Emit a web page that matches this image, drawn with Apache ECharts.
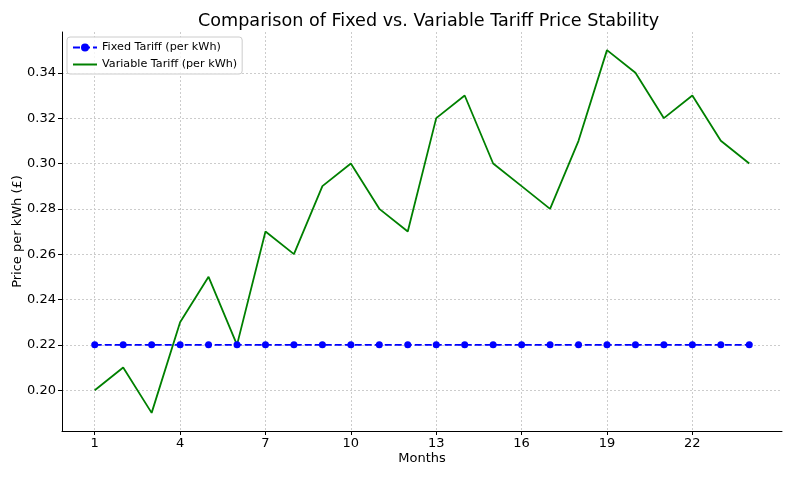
<!DOCTYPE html>
<html>
<head>
<meta charset="utf-8">
<script src="https://cdn.jsdelivr.net/npm/echarts@6/dist/echarts.min.js"></script>
<style>html,body{margin:0;padding:0;background:#fff;}#chart{width:795px;height:477px;}</style>
</head>
<body>
<div id="chart"></div>
<script>
const months = [1,2,3,4,5,6,7,8,9,10,11,12,13,14,15,16,17,18,19,20,21,22,23,24];
const fixedTariff = [0.22,0.22,0.22,0.22,0.22,0.22,0.22,0.22,0.22,0.22,0.22,0.22,0.22,0.22,0.22,0.22,0.22,0.22,0.22,0.22,0.22,0.22,0.22,0.22];
const variableTariff = [0.20,0.21,0.19,0.23,0.25,0.22,0.27,0.26,0.29,0.30,0.28,0.27,0.32,0.33,0.30,0.29,0.28,0.31,0.35,0.34,0.32,0.33,0.31,0.30];
const xTicks = [1,4,7,10,13,16,19,22];
const yTicks = [0.20,0.22,0.24,0.26,0.28,0.30,0.32,0.34];
const seriesNames = ['Fixed Tariff (per kWh)','Variable Tariff (per kWh)'];

const font = 'DejaVu Sans';
const chart = echarts.init(document.getElementById('chart'), null, {renderer:'canvas'});
chart.setOption({
  animation: false,
  backgroundColor: '#ffffff',
  title: {
    text: 'Comparison of Fixed vs. Variable Tariff Price Stability',
    left: 193, top: 7,
    textStyle: {fontFamily: font, fontSize: 17.6, fontWeight: 'normal', color: '#000'}
  },
  legend: {
    orient: 'vertical', left: 67, top: 37,
    backgroundColor: 'rgba(255,255,255,0.8)', borderColor: '#cccccc', borderWidth: 1, borderRadius: 3,
    padding: [5, 5, 4, 5], itemGap: 6, itemWidth: 24, itemHeight: 10,
    textStyle: {fontFamily: font, fontSize: 11.2, color: '#000'},
    data: [seriesNames[0], {name: seriesNames[1], itemStyle: {opacity: 0}}]
  },
  grid: {left: 62, right: 13, top: 32, bottom: 46, containLabel: false, outerBoundsMode: 'none'},
  xAxis: {
    type: 'value', min: -0.15, max: 25.15,
    name: 'Months', nameLocation: 'middle', nameGap: 21, nameMoveOverlap: false,
    nameTextStyle: {fontFamily: font, fontSize: 13, color: '#000'},
    axisLine: {show: true, onZero: false, lineStyle: {color: '#000', width: 1}},
    axisTick: {show: true, length: 4, customValues: xTicks, lineStyle: {color: '#000'}},
    axisLabel: {customValues: xTicks, fontFamily: font, fontSize: 13, color: '#000', margin: 6},
    splitLine: {show: true, lineStyle: {color: '#cccccc', type: [2, 2], width: 1}}
  },
  yAxis: {
    type: 'value', min: 0.182, max: 0.358,
    name: 'Price per kWh (£)', nameLocation: 'middle', nameGap: 38, nameMoveOverlap: false,
    nameTextStyle: {fontFamily: font, fontSize: 13, color: '#000'},
    axisLine: {show: true, onZero: false, lineStyle: {color: '#000', width: 1}},
    axisTick: {show: true, length: 4, customValues: yTicks, lineStyle: {color: '#000'}},
    axisLabel: {customValues: yTicks, fontFamily: font, fontSize: 13, color: '#000', margin: 6,
      formatter: v => v.toFixed(2)},
    splitLine: {show: true, lineStyle: {color: '#cccccc', type: [2, 2], width: 1}}
  },
  series: [
    {
      name: seriesNames[0], type: 'line',
      data: months.map((m, i) => [m, fixedTariff[i]]),
      symbol: 'circle', symbolSize: 7,
      itemStyle: {color: '#0000ff'},
      lineStyle: {color: '#0000ff', width: 1.8, type: [7, 3]},
      z: 3
    },
    {
      name: seriesNames[1], type: 'line',
      data: months.map((m, i) => [m, variableTariff[i]]),
      symbol: 'none', showSymbol: false,
      itemStyle: {color: '#008000'},
      lineStyle: {color: '#008000', width: 1.8},
      z: 2
    }
  ]
});
</script>
</body>
</html>
